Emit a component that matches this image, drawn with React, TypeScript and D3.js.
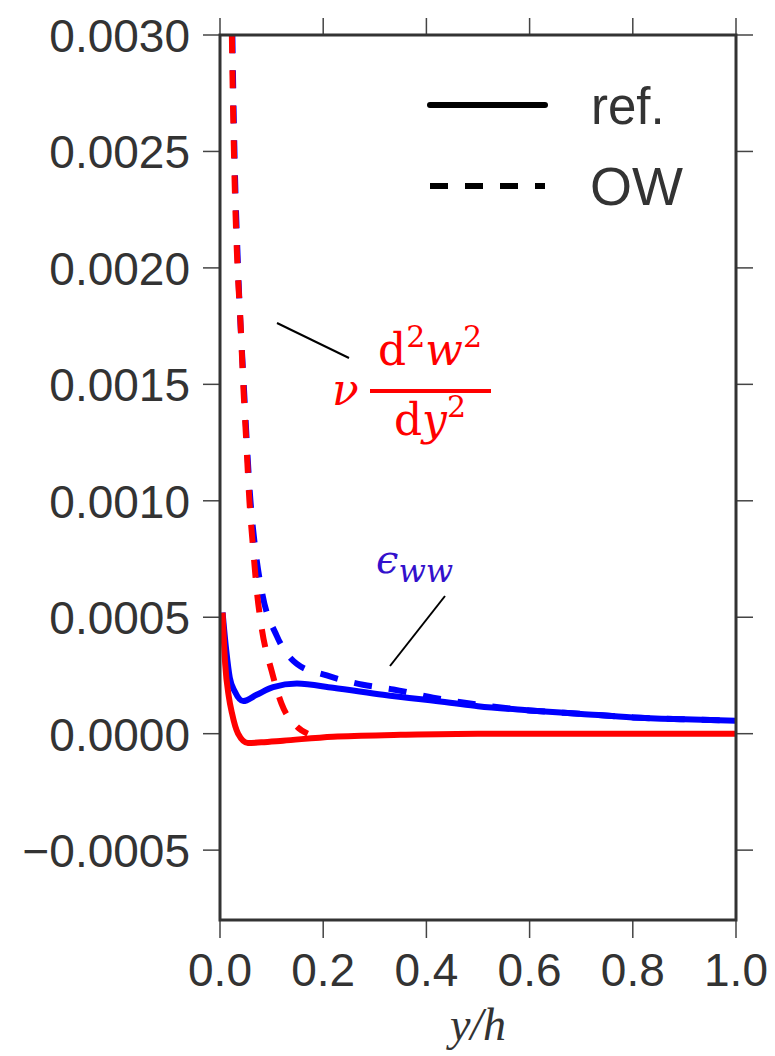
import React from 'react';
import * as d3 from 'd3';

// y/h positions and values
const blueRefX = [0.005, 0.012, 0.019, 0.029, 0.045, 0.071, 0.103, 0.149, 0.219, 0.316, 0.446, 0.5, 0.6, 0.7, 0.8, 0.9, 1.0];
const blueRefY = [0.00052, 0.00036, 0.00024, 0.00018, 0.00014, 0.000167, 0.0002, 0.000215, 0.000197, 0.000167, 0.000133, 0.000118, 0.0001, 0.000085, 0.00007, 0.000062, 0.000056];

const redRefX = [0.005, 0.01, 0.017, 0.023, 0.035, 0.054, 0.08, 0.122, 0.219, 0.35, 0.5, 0.7, 1.0];
const redRefY = [0.00052, 0.0003, 0.00016, 0.00009, 0.0, -0.00004, -0.000037, -0.00003, -0.000013, -0.000005, 0, 0, 0];

const redOwX = [0.02, 0.023, 0.027, 0.034, 0.039, 0.045, 0.051, 0.057, 0.064, 0.072, 0.081, 0.1, 0.119, 0.149, 0.17];
const redOwY = [0.0036, 0.003, 0.0025, 0.002, 0.0018, 0.0015, 0.00125, 0.001, 0.0008, 0.0006, 0.00045, 0.00027, 0.00013, 0.00003, 0.0];

const blueOwX = [0.021, 0.024, 0.028, 0.035, 0.046, 0.059, 0.068, 0.082, 0.11, 0.149, 0.207, 0.277, 0.336, 0.413, 0.5, 0.6, 0.7, 0.8, 0.9, 1.0];
const blueOwY = [0.0036, 0.003, 0.0025, 0.002, 0.0015, 0.001, 0.0008, 0.0006, 0.00042, 0.0003, 0.00025, 0.00021, 0.00019, 0.000155, 0.000125, 0.0001, 0.000085, 0.00007, 0.000062, 0.000056];

const xTicks = [0, 0.2, 0.4, 0.6, 0.8, 1.0];
const yTicks = [-0.0005, 0, 0.0005, 0.001, 0.0015, 0.002, 0.0025, 0.003];

const W = 775, H = 1056;
const left = 220, right = 736, top = 35, bottom = 920;

const zip = (xs: number[], ys: number[]) => xs.map((x, i) => [x, ys[i]] as [number, number]);

export default function App() {
  const x = d3.scaleLinear().domain([0, 1]).range([left, right]);
  const y = d3.scaleLinear().domain([-0.0008, 0.003]).range([bottom, top]);

  const line = d3.line<[number, number]>()
    .x(d => x(d[0]))
    .y(d => y(d[1]))
    .curve(d3.curveMonotoneX);

  const tickFmt = (v: number) => (v < 0 ? '\u2212' : '') + Math.abs(v).toFixed(4);

  const curves = [
    { data: zip(blueOwX, blueOwY), color: '#0000ff', dash: '18,17' },
    { data: zip(redOwX, redOwY), color: '#ff0000', dash: '18,17' },
    { data: zip(blueRefX, blueRefY), color: '#0000ff', dash: null },
    { data: zip(redRefX, redRefY), color: '#ff0000', dash: null },
  ];

  const labelFont = '"Liberation Sans", Arial, sans-serif';
  const mathFont = '"DejaVu Serif", "Liberation Serif", serif';

  return (
    <div style={{ position: 'absolute', left: 0, top: 0 }}>
      <svg width={W} height={H} style={{ display: 'block', background: '#fff' }}>
        <defs>
          <clipPath id="plot-clip">
            <rect x={left} y={top} width={right - left} height={bottom - top} />
          </clipPath>
        </defs>

        {/* ticks, all pointing outward */}
        <g stroke="#444" strokeWidth={1.5}>
          {yTicks.map(t => (
            <g key={'y' + t}>
              <line x1={left - 17} x2={left} y1={y(t)} y2={y(t)} />
              <line x1={right} x2={right + 17} y1={y(t)} y2={y(t)} />
            </g>
          ))}
          {xTicks.map(t => (
            <g key={'x' + t}>
              <line x1={x(t)} x2={x(t)} y1={bottom} y2={bottom + 18} />
              <line x1={x(t)} x2={x(t)} y1={top - 17} y2={top} />
            </g>
          ))}
        </g>

        {/* tick labels */}
        <g fill="#333" fontFamily={labelFont} fontSize={46}>
          {yTicks.map(t => (
            <text key={'yl' + t} x={left - 30} y={y(t) + 17} textAnchor="end">{tickFmt(t)}</text>
          ))}
          {xTicks.map(t => (
            <text key={'xl' + t} x={x(t)} y={986} textAnchor="middle">{t.toFixed(1)}</text>
          ))}
        </g>

        <text x={(left + right) / 2} y={1040} textAnchor="middle" fontFamily='"Liberation Serif", serif' fontStyle="italic" fontSize={46} fill="#333">y/h</text>

        {/* curves */}
        <g clipPath="url(#plot-clip)">
          {curves.map((c, i) => (
            <path key={i} d={line(c.data) || ''} fill="none" stroke={c.color} strokeWidth={6}
              strokeDasharray={c.dash || undefined} />
          ))}
        </g>

        {/* frame */}
        <rect x={left} y={top} width={right - left} height={bottom - top} fill="none" stroke="#333" strokeWidth={3} />

        {/* legend */}
        <line x1={430} x2={545} y1={105} y2={105} stroke="#000" strokeWidth={6} strokeLinecap="round" />
        <line x1={430} x2={545} y1={186} y2={186} stroke="#000" strokeWidth={6} strokeDasharray="18,17" />
        <text x={591} y={124} fontFamily={labelFont} fontSize={51} fill="#333">ref.</text>
        <text x={590} y={205} fontFamily={labelFont} fontSize={54} fill="#333">OW</text>

        {/* annotation: nu d2w2/dy2 */}
        <line x1={277} y1={323} x2={349} y2={358} stroke="#000" strokeWidth={2} />
        <g fill="#ff0000" fontFamily={mathFont} fontSize={44}>
          <text x={332} y={405} fontStyle="italic">ν</text>
          <text x={430} y={365} textAnchor="middle">
            d<tspan fontSize={30} dy={-18}>2</tspan><tspan fontStyle="italic" dy={18}>w</tspan><tspan fontSize={30} dy={-18}>2</tspan>
          </text>
          <text x={430} y={435} textAnchor="middle">
            d<tspan fontStyle="italic">y</tspan><tspan fontSize={30} dy={-18}>2</tspan>
          </text>
        </g>
        <line x1={370} x2={491} y1={391} y2={391} stroke="#ff0000" strokeWidth={4} />

        {/* annotation: epsilon_ww */}
        <line x1={390} y1={666} x2={445} y2={596} stroke="#000" strokeWidth={2} />
        <g fill="#3311cc" fontFamily={mathFont} fontStyle="italic">
          <text x={376} y={573} fontSize={40}>ϵ<tspan fontSize={32} dy={9}>ww</tspan></text>
        </g>
      </svg>
    </div>
  );
}
